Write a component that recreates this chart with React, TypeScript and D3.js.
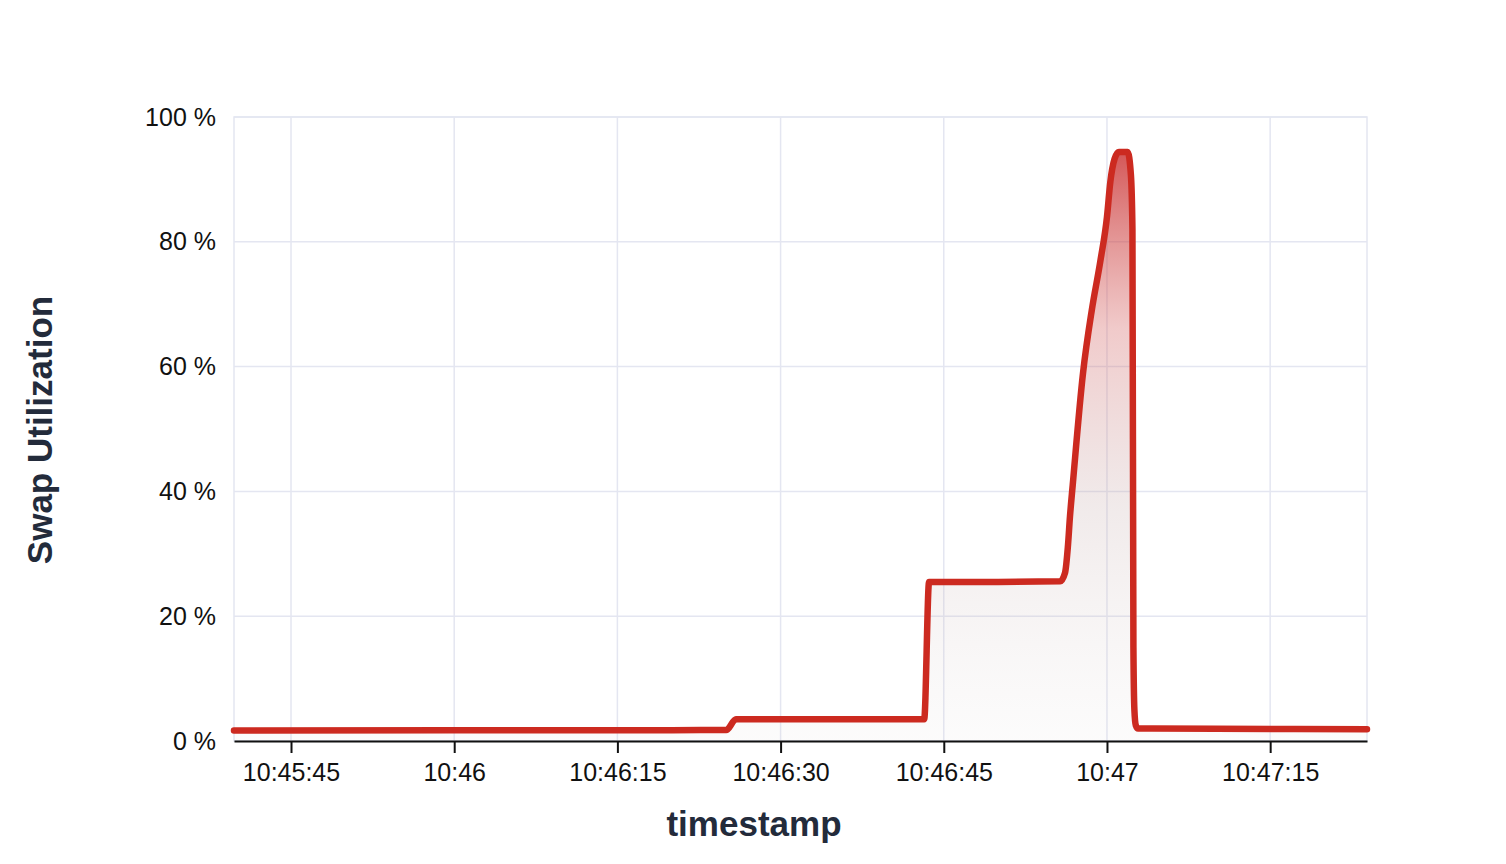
import React, { useEffect, useRef } from "react";
import * as d3 from "d3";

// sample times (HH:MM:SS.mmm) and swap utilization in percent
const timestamps = [
  "10:45:39.760", "10:46:00.000", "10:46:20.000", "10:46:25.000", "10:46:25.900",
  "10:46:35.000", "10:46:43.200", "10:46:43.650", "10:46:50.000", "10:46:55.700",
  "10:46:56.150", "10:46:56.400", "10:46:56.600", "10:46:56.850", "10:46:57.800",
  "10:46:58.600", "10:46:59.400", "10:47:00.000", "10:47:00.300", "10:47:00.700",
  "10:47:01.100", "10:47:01.900", "10:47:02.200", "10:47:02.340", "10:47:02.430",
  "10:47:02.520", "10:47:02.650", "10:47:02.850", "10:47:10.000", "10:47:23.900",
];
const swapValues = [
  1.7, 1.72, 1.74, 1.76, 3.47,
  3.47, 3.48, 25.5, 25.5, 25.6,
  27, 31, 36, 41, 59,
  69, 77, 84, 89.5, 93.3,
  94.4, 94.4, 90.7, 82, 15,
  5, 2.5, 2.0, 1.95, 1.9,
];
const xTickTimes = ["10:45:45", "10:46:00", "10:46:15", "10:46:30", "10:46:45", "10:47:00", "10:47:15"];
const xTickLabels = ["10:45:45", "10:46", "10:46:15", "10:46:30", "10:46:45", "10:47", "10:47:15"];
const yTicks = [0, 20, 40, 60, 80, 100];

const parseMs = d3.timeParse("%H:%M:%S.%L");
const parseSec = d3.timeParse("%H:%M:%S");

const App = () => {
  const ref = useRef<SVGSVGElement>(null);

  useEffect(() => {
    if (!ref.current) return;
    const svg = d3.select(ref.current);
    svg.selectAll("*").remove();

    const width = 1506;
    const height = 864;
    const margin = { top: 117, right: 139, bottom: 123, left: 234 };
    const innerW = width - margin.left - margin.right;
    const innerH = height - margin.top - margin.bottom;
    const font = "'Liberation Sans', Arial, Helvetica, sans-serif";

    const data = timestamps.map((t, i) => ({ t: parseMs(t) as Date, v: swapValues[i] }));

    const x = d3.scaleTime()
      .domain(d3.extent(data, (d) => d.t) as [Date, Date])
      .range([0, innerW]);
    const y = d3.scaleLinear().domain([0, 100]).range([innerH, 0]);

    const defs = svg.append("defs");
    const grad = defs.append("linearGradient")
      .attr("id", "swapFill")
      .attr("x1", 0).attr("y1", 0).attr("x2", 0).attr("y2", 1);
    grad.append("stop").attr("offset", "0%").attr("stop-color", "rgb(200,40,40)").attr("stop-opacity", 0.78);
    grad.append("stop").attr("offset", "30%").attr("stop-color", "rgb(210,90,90)").attr("stop-opacity", 0.32);
    grad.append("stop").attr("offset", "60%").attr("stop-color", "rgb(190,160,160)").attr("stop-opacity", 0.22);
    grad.append("stop").attr("offset", "100%").attr("stop-color", "rgb(215,210,210)").attr("stop-opacity", 0.08);

    const g = svg.append("g").attr("transform", `translate(${margin.left},${margin.top})`);

    const gridColor = "#e4e6f1";
    // horizontal grid
    g.append("g")
      .selectAll("line")
      .data(yTicks)
      .enter().append("line")
      .attr("x1", 0).attr("x2", innerW)
      .attr("y1", (d) => y(d)).attr("y2", (d) => y(d))
      .attr("stroke", gridColor).attr("stroke-width", 1.5);
    // vertical grid
    const tickDates = xTickTimes.map((t) => parseSec(t) as Date);
    g.append("g")
      .selectAll("line")
      .data(tickDates)
      .enter().append("line")
      .attr("x1", (d) => x(d)).attr("x2", (d) => x(d))
      .attr("y1", 0).attr("y2", innerH)
      .attr("stroke", gridColor).attr("stroke-width", 1.5);
    // frame
    g.append("rect")
      .attr("x", 0).attr("y", 0).attr("width", innerW).attr("height", innerH)
      .attr("fill", "none").attr("stroke", gridColor).attr("stroke-width", 1.5);

    const curve = d3.curveMonotoneX;
    const area = d3.area<{ t: Date; v: number }>()
      .x((d) => x(d.t)).y0(innerH).y1((d) => y(d.v)).curve(curve);
    const line = d3.line<{ t: Date; v: number }>()
      .x((d) => x(d.t)).y((d) => y(d.v)).curve(curve);

    g.append("path").datum(data).attr("d", area).attr("fill", "url(#swapFill)");

    // x axis
    const xAxis = g.append("g")
      .attr("transform", `translate(0,${innerH})`)
      .call(
        d3.axisBottom(x)
          .tickValues(tickDates)
          .tickFormat((_, i) => xTickLabels[i])
          .tickSizeInner(12)
          .tickSizeOuter(0)
          .tickPadding(10)
      );
    xAxis.select(".domain").attr("stroke", "#111").attr("stroke-width", 2);
    xAxis.selectAll(".tick line").attr("stroke", "#111").attr("stroke-width", 2);
    xAxis.selectAll("text")
      .attr("font-family", font).attr("font-size", 25).attr("fill", "#111");

    // y axis labels
    const yAxis = g.append("g")
      .call(d3.axisLeft(y).tickValues(yTicks).tickFormat((d) => `${d} %`).tickSize(0).tickPadding(18));
    yAxis.select(".domain").remove();
    yAxis.selectAll("text")
      .attr("font-family", font).attr("font-size", 25).attr("fill", "#111");

    g.append("path").datum(data)
      .attr("d", line)
      .attr("fill", "none")
      .attr("stroke", "#cc2a20")
      .attr("stroke-width", 6.5)
      .attr("stroke-linejoin", "round")
      .attr("stroke-linecap", "round");

    svg.append("text")
      .attr("x", 754).attr("y", 836)
      .attr("text-anchor", "middle")
      .attr("font-family", font).attr("font-weight", "bold").attr("font-size", 35)
      .attr("fill", "#232b3b")
      .text("timestamp");

    svg.append("text")
      .attr("transform", "translate(52,430) rotate(-90)")
      .attr("text-anchor", "middle")
      .attr("font-family", font).attr("font-weight", "bold").attr("font-size", 35)
      .attr("fill", "#232b3b")
      .text("Swap Utilization");
  }, []);

  return (
    <svg
      ref={ref}
      width={1506}
      height={864}
      style={{ position: "absolute", left: 0, top: 0, background: "#fff" }}
    />
  );
};

export default App;
